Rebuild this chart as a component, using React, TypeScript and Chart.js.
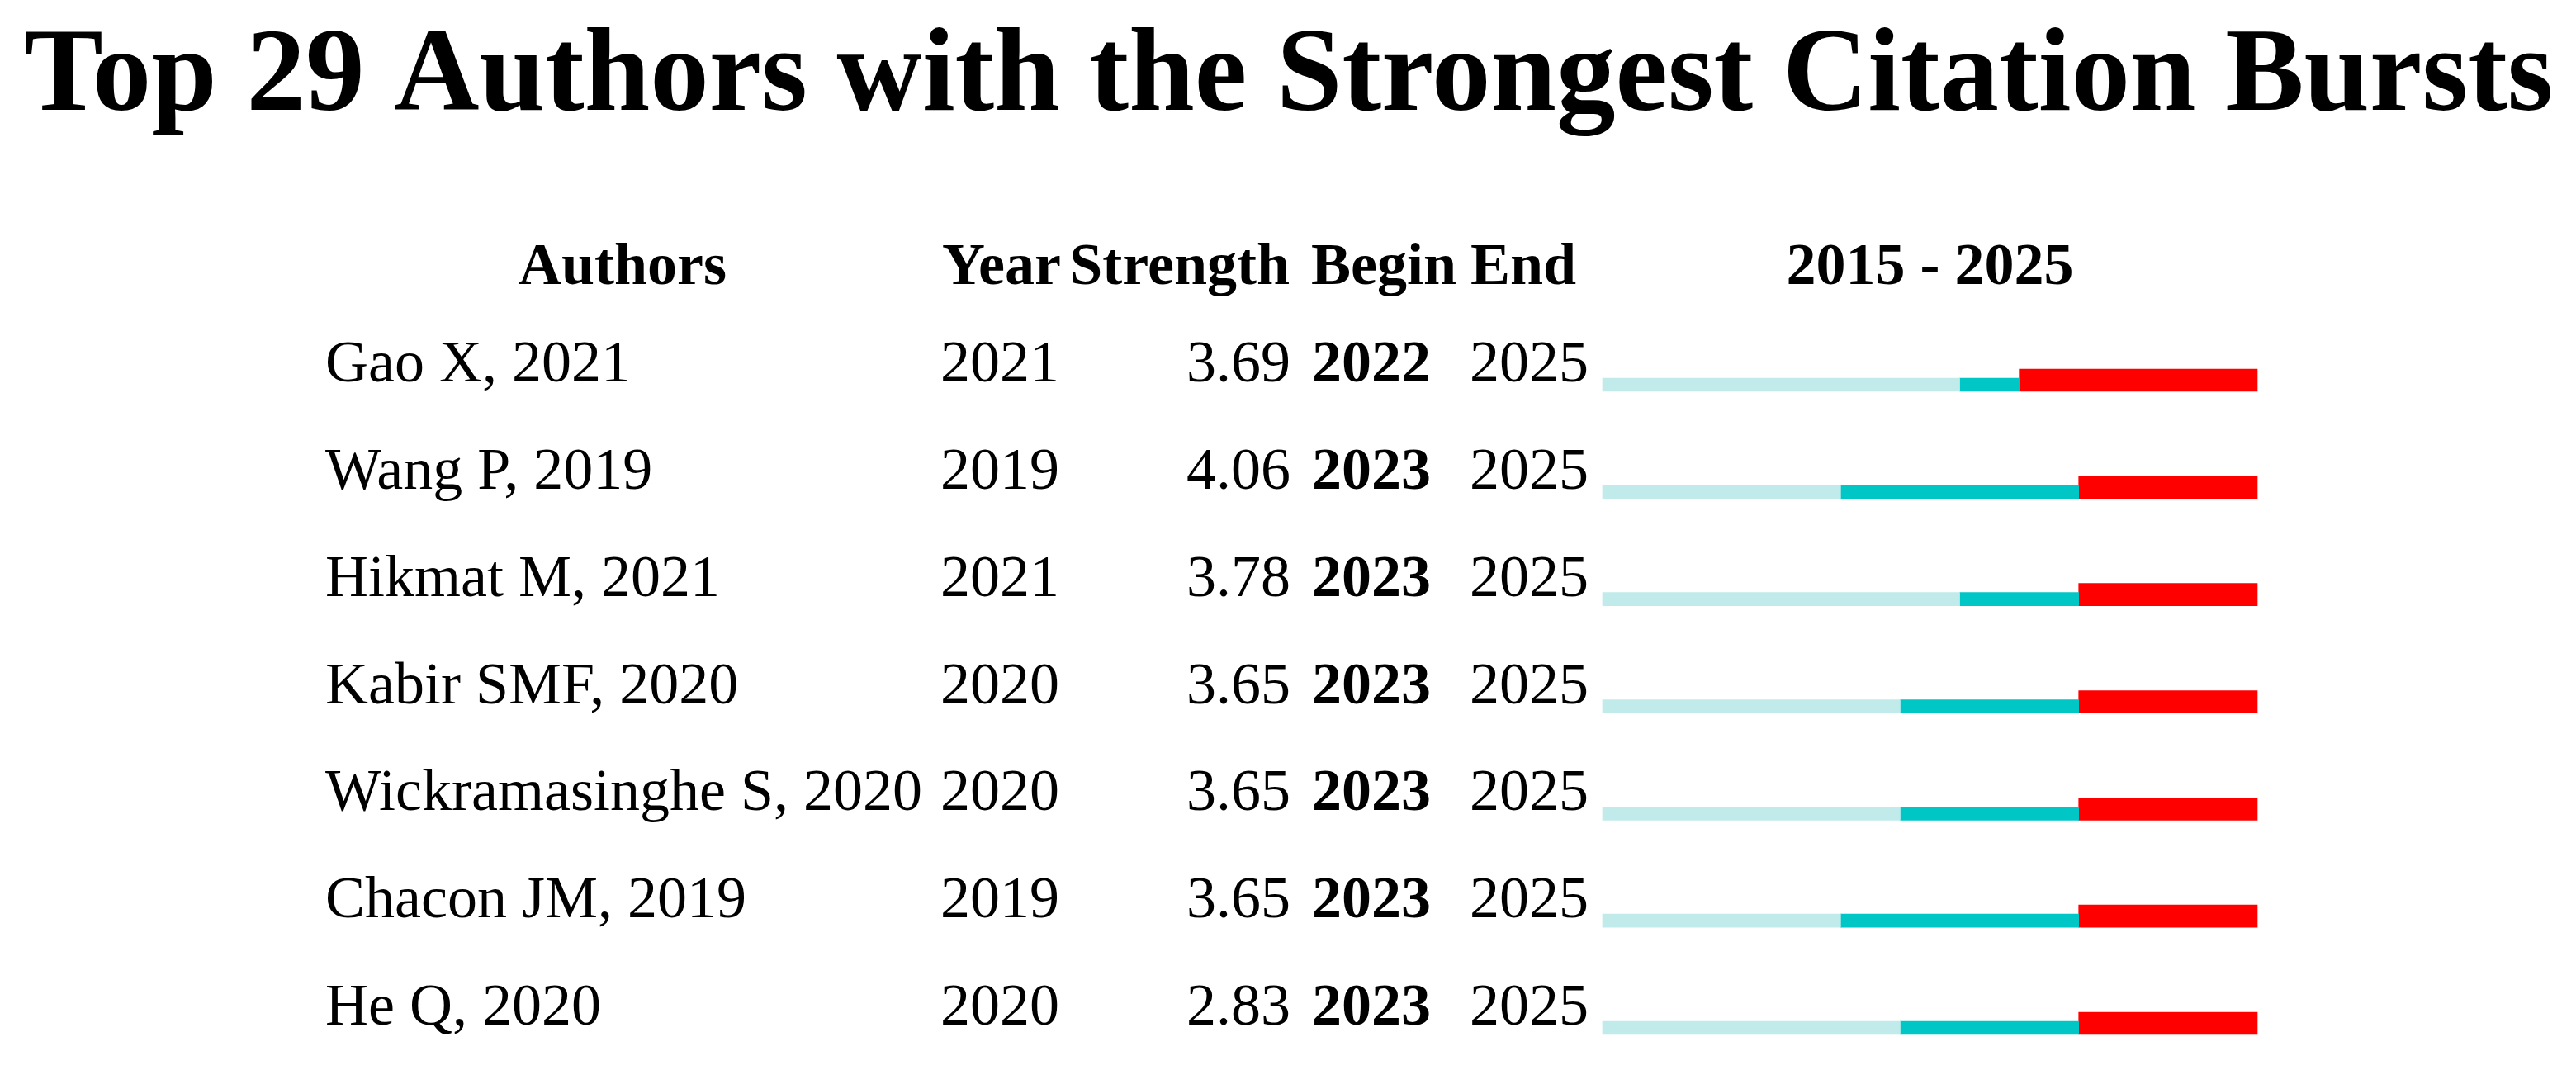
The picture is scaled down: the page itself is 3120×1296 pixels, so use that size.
import React, { useEffect, useRef } from "react";
import { Chart, registerables } from "chart.js";

Chart.register(...registerables);

const TITLE = "Top 29 Authors with the Strongest Citation Bursts";
const RANGE_LABEL = "2015 - 2025";
const START_YEAR = 2015;
const END_YEAR = 2025;

const authors = [
  "Gao X, 2021",
  "Wang P, 2019",
  "Hikmat M, 2021",
  "Kabir SMF, 2020",
  "Wickramasinghe S, 2020",
  "Chacon JM, 2019",
  "He Q, 2020",
];
const years = [2021, 2019, 2021, 2020, 2020, 2019, 2020];
const strengths = [3.69, 4.06, 3.78, 3.65, 3.65, 3.65, 2.83];
const begins = [2022, 2023, 2023, 2023, 2023, 2023, 2023];
const ends = [2025, 2025, 2025, 2025, 2025, 2025, 2025];

const FONT = '"Liberation Serif", "Times New Roman", serif';
const LIGHT = "#C1EBEB";
const TEAL = "#00C6C6";
const RED = "#FF0000";
const THIN = 16;
const THICK = 27;

export default function App() {
  const ref = useRef<HTMLCanvasElement | null>(null);

  useEffect(() => {
    if (!ref.current) return;

    const shiftPlugin = {
      id: "shiftThin",
      beforeDatasetDraw(chart: any, args: any) {
        const ds = chart.data.datasets[args.index];
        if (ds.thin) {
          chart.ctx.save();
          chart.ctx.translate(0, (THICK - THIN) / 2);
        }
      },
      afterDatasetDraw(chart: any, args: any) {
        const ds = chart.data.datasets[args.index];
        if (ds.thin) chart.ctx.restore();
      },
    };

    const textPlugin = {
      id: "tableText",
      afterDraw(chart: any) {
        const ctx = chart.ctx;
        const y = chart.scales.y;
        const x = chart.scales.x;
        ctx.save();
        ctx.fillStyle = "#000";
        ctx.textBaseline = "alphabetic";
        // title
        ctx.font = `bold 143px ${FONT}`;
        ctx.textAlign = "center";
        ctx.fillText(TITLE, 1561, 133);
        // headers
        ctx.font = `bold 72px ${FONT}`;
        const hy = 344;
        ctx.textAlign = "center";
        ctx.fillText("Authors", 754, hy);
        ctx.textAlign = "left";
        ctx.fillText("Year", 1141, hy);
        ctx.textAlign = "right";
        ctx.fillText("Strength", 1562, hy);
        ctx.textAlign = "left";
        ctx.fillText("Begin", 1588, hy);
        ctx.fillText("End", 1781, hy);
        ctx.textAlign = "center";
        ctx.fillText(RANGE_LABEL, (x.left + x.right) / 2, hy);
        // rows
        authors.forEach((a, i) => {
          const by = y.getPixelForValue(i) + 1.5;
          ctx.font = `72px ${FONT}`;
          ctx.textAlign = "left";
          ctx.fillText(a, 394, by);
          ctx.fillText(String(years[i]), 1139, by);
          ctx.textAlign = "right";
          ctx.fillText(strengths[i].toFixed(2), 1563, by);
          ctx.textAlign = "left";
          ctx.font = `bold 72px ${FONT}`;
          ctx.fillText(String(begins[i]), 1589, by);
          ctx.font = `72px ${FONT}`;
          ctx.fillText(String(ends[i]), 1780, by);
        });
        ctx.restore();
      },
    };

    const chart = new Chart(ref.current, {
      type: "bar",
      data: {
        labels: authors,
        datasets: [
          {
            label: "before",
            data: years.map((yr) => [START_YEAR, yr]),
            backgroundColor: LIGHT,
            barThickness: THIN,
            grouped: false,
            clip: false,
            thin: true,
          } as any,
          {
            label: "active",
            data: years.map((yr, i) => [yr, begins[i]]),
            backgroundColor: TEAL,
            barThickness: THIN,
            grouped: false,
            clip: false,
            thin: true,
          } as any,
          {
            label: "burst",
            data: begins.map((b, i) => [b, ends[i] + 1]),
            backgroundColor: RED,
            barThickness: THICK,
            grouped: false,
            clip: false,
          } as any,
        ],
      },
      options: {
        indexAxis: "y",
        animation: false,
        responsive: false,
        devicePixelRatio: 1,
        layout: { padding: { left: 1941, right: 386, top: 460.5, bottom: 56.5 } },
        scales: {
          x: { type: "linear", min: START_YEAR, max: END_YEAR + 1, display: false },
          y: { type: "category", offset: false, display: false },
        },
        plugins: { legend: { display: false }, tooltip: { enabled: false } },
      },
      plugins: [shiftPlugin, textPlugin],
    } as any);

    return () => chart.destroy();
  }, []);

  return (
    <div style={{ position: "fixed", left: 0, top: 0, width: 3120, height: 1296, background: "#fff" }}>
      <canvas ref={ref} width={3120} height={1296} style={{ width: 3120, height: 1296, display: "block" }} />
    </div>
  );
}
